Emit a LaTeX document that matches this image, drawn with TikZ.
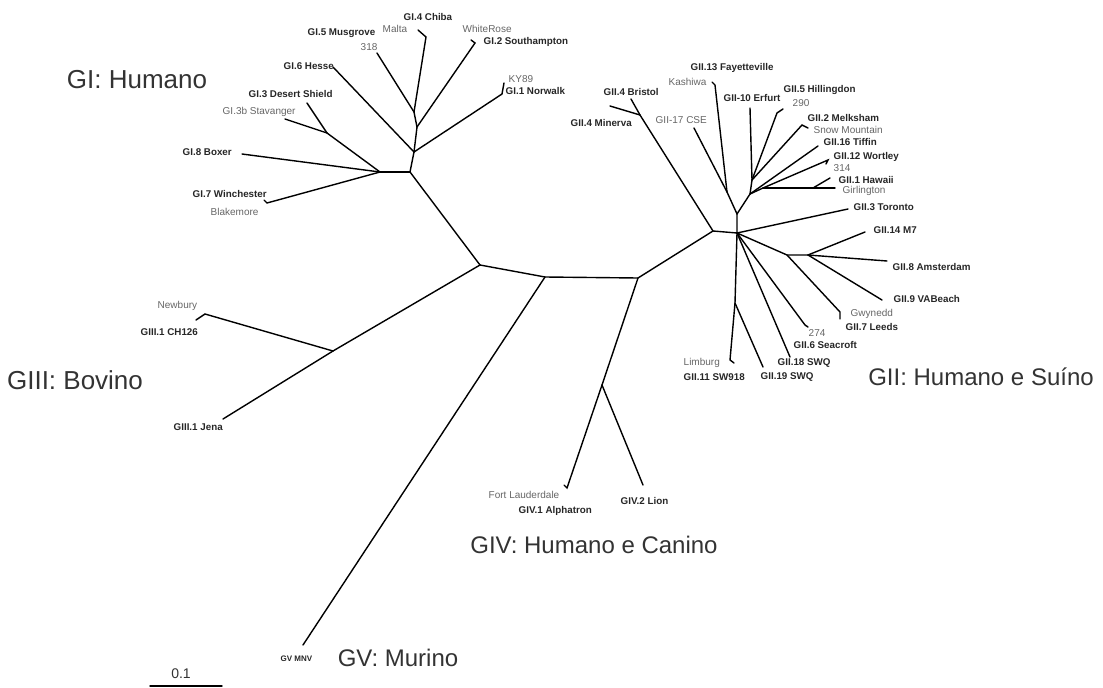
\documentclass[tikz,border=0pt]{standalone}
\usepackage{fontspec}
\setmainfont{Liberation Sans}
\begin{document}
\begin{tikzpicture}[x=1pt, y=-1pt, line width=1.4pt, line cap=round,
  bold/.style={font=\fontsize{9.8}{10}\selectfont\bfseries, text=black!85, inner sep=0pt, anchor=west},
  plain/.style={font=\fontsize{10}{10}\selectfont, text=black!60, inner sep=0pt, anchor=west},
  group/.style={font=\fontsize{24}{24}\selectfont, text=black!80, inner sep=0pt}]
\useasboundingbox (0,0) rectangle (1103,688);

% backbone
\coordinate (a) at (480,265);
\coordinate (b) at (545,277);
\coordinate (c) at (638,278);
\coordinate (gii) at (713,231);
\coordinate (hub) at (737,233);
\coordinate (up) at (737,214);

% GI
\coordinate (gi1) at (410,172);
\coordinate (gi2) at (380,172);
\coordinate (gi3) at (327,133);
\coordinate (gi4) at (414,152);
\coordinate (gi5) at (417,127);
\coordinate (gi6) at (414,112);
\coordinate (boxer) at (242,154);
\coordinate (winch) at (267,203);
\coordinate (blake) at (264,200);
\coordinate (dshield) at (307,103);
\coordinate (stav) at (285,119);
\coordinate (hesse) at (333,67);
\coordinate (norw) at (502,94);
\coordinate (ky) at (504,83);
\coordinate (south) at (475,43);
\coordinate (white) at (471,40);
\coordinate (s318) at (377,53);
\coordinate (chiba) at (426,37);
\coordinate (malta) at (418,30);

% GII
\coordinate (bris) at (640,115);
\coordinate (bristol) at (631,99);
\coordinate (minerva) at (610,106);
\coordinate (k) at (727,192);
\coordinate (cse) at (694,128);
\coordinate (kash) at (715,85);
\coordinate (fay) at (712,82);
\coordinate (n1) at (750,194);
\coordinate (n2) at (752,180);
\coordinate (g0) at (763,188);
\coordinate (erfurt) at (750,108);
\coordinate (hill) at (777,113);
\coordinate (h290) at (783,109);
\coordinate (melk) at (802,125);
\coordinate (snow) at (808,128);
\coordinate (tiffin) at (818,146);
\coordinate (wort) at (828,160);
\coordinate (w314) at (826,164);
\coordinate (h) at (813,188);
\coordinate (girl) at (835,188);
\coordinate (hawaii) at (830,178);
\coordinate (toronto) at (848,209);
\coordinate (m1) at (787,255);
\coordinate (m2) at (808,255);
\coordinate (m7) at (865,232);
\coordinate (amst) at (887,261);
\coordinate (vab) at (882,300);
\coordinate (leeds) at (840,312);
\coordinate (gwy) at (840,319);
\coordinate (t274) at (805,325);
\coordinate (sea) at (808,327);
\coordinate (swqa) at (790,357);
\coordinate (l1) at (735,303);
\coordinate (swqb) at (763,367);
\coordinate (limb) at (730,360);
\coordinate (sw918) at (734,363);

% GIII, GIV, GV
\coordinate (giii) at (333,351);
\coordinate (newb) at (205,314);
\coordinate (ch126) at (196,320);
\coordinate (jena) at (223,419);
\coordinate (giv) at (602,385);
\coordinate (alph) at (567,488);
\coordinate (fort) at (564,485);
\coordinate (lion) at (643,485);
\coordinate (mnv) at (303,645);

% branches
\draw (a) -- (b) -- (c) -- (gii) -- (hub) -- (up);
\draw (a) -- (gi1);
\draw (a) -- (giii);
\draw (b) -- (mnv);
\draw (c) -- (giv);

\draw (gi1) -- (gi2);
\draw (gi1) -- (gi4);
\draw (gi2) -- (boxer);
\draw (gi2) -- (winch) -- (blake);
\draw (gi2) -- (gi3);
\draw (gi3) -- (dshield);
\draw (gi3) -- (stav);
\draw (gi4) -- (hesse);
\draw (gi4) -- (norw) -- (ky);
\draw (gi4) -- (gi5);
\draw (gi5) -- (south) -- (white);
\draw (gi5) -- (gi6);
\draw (gi6) -- (s318);
\draw (gi6) -- (chiba) -- (malta);

\draw (gii) -- (bris);
\draw (bris) -- (bristol);
\draw (bris) -- (minerva);
\draw (up) -- (k);
\draw (k) -- (cse);
\draw (k) -- (kash) -- (fay);
\draw (up) -- (n1) -- (n2);
\draw (n2) -- (erfurt);
\draw (n2) -- (hill) -- (h290);
\draw (n2) -- (melk) -- (snow);
\draw (n1) -- (tiffin);
\draw (n1) -- (g0) -- (wort) -- (w314);
\draw (g0) -- (h) -- (girl);
\draw (h) -- (hawaii);
\draw (hub) -- (toronto);
\draw (hub) -- (m1) -- (m2);
\draw (m2) -- (m7);
\draw (m2) -- (amst);
\draw (m2) -- (vab);
\draw (m1) -- (leeds) -- (gwy);
\draw (hub) -- (t274) -- (sea);
\draw (hub) -- (swqa);
\draw (hub) -- (l1) -- (limb) -- (sw918);
\draw (l1) -- (swqb);

\draw (giii) -- (newb) -- (ch126);
\draw (giii) -- (jena);
\draw (giv) -- (alph) -- (fort);
\draw (giv) -- (lion);

% labels GI
\node[bold] (lchiba) at (403,17) {GI.4 Chiba};
\node[plain] (lmalta) at (382,29) {Malta};
\node[bold] (lmusg) at (307,33) {GI.5 Musgrove};
\node[plain] (l318) at (360,47) {318};
\node[plain] (lwhite) at (462,29) {WhiteRose};
\node[bold] (lsouth) at (483,42) {GI.2 Southampton};
\node[bold] (lhesse) at (283,66) {GI.6 Hesse};
\node[plain] (lky) at (508,79) {KY89};
\node[bold] (lnorw) at (505,91) {GI.1 Norwalk};
\node[bold] (ldesert) at (248,94) {GI.3 Desert Shield};
\node[plain] (lstav) at (222,112) {GI.3b Stavanger};
\node[bold] (lboxer) at (182,152) {GI.8 Boxer};
\node[bold] (lwinch) at (192,194) {GI.7 Winchester};
\node[plain] (lblake) at (210,212) {Blakemore};

% labels GII
\node[bold] (lbristol) at (603,92) {GII.4 Bristol};
\node[bold] (lminerva) at (570,123) {GII.4 Minerva};
\node[plain] (lcse) at (655,120) {GII-17 CSE};
\node[bold] (lfay) at (690,68) {GII.13 Fayetteville};
\node[plain] (lkash) at (668,82) {Kashiwa};
\node[bold] (lerfurt) at (723,98) {GII-10 Erfurt};
\node[bold] (lhill) at (783,90) {GII.5 Hillingdon};
\node[plain] (l290) at (792,103) {290};
\node[bold] (lmelk) at (807,118) {GII.2 Melksham};
\node[plain] (lsnow) at (813,130) {Snow Mountain};
\node[bold] (ltiffin) at (823,142) {GII.16 Tiffin};
\node[bold] (lwort) at (833,157) {GII.12 Wortley};
\node[plain] (l314) at (833,168) {314};
\node[bold] (lhawaii) at (838,180) {GII.1 Hawaii};
\node[plain] (lgirl) at (842,191) {Girlington};
\node[bold] (ltoronto) at (853,207) {GII.3 Toronto};
\node[bold] (lm7) at (873,230) {GII.14 M7};
\node[bold] (lamst) at (892,267) {GII.8 Amsterdam};
\node[bold] (lvab) at (893,299) {GII.9 VABeach};
\node[plain] (lgwy) at (850,314) {Gwynedd};
\node[bold] (lleeds) at (845,327) {GII.7 Leeds};
\node[plain] (l274) at (808,333) {274};
\node[bold] (lsea) at (793,345) {GII.6 Seacroft};
\node[bold] (lswqa) at (777,363) {GII.18 SWQ};
\node[plain] (llimb) at (683,363) {Limburg};
\node[bold] (lsw918) at (683,377) {GII.11 SW918};
\node[bold] (lswqb) at (760,377) {GII.19 SWQ};

% labels GIII, GIV, GV
\node[plain] (lnewb) at (157,306) {Newbury};
\node[bold] (lch126) at (140,332) {GIII.1 CH126};
\node[bold] (ljena) at (173,427) {GIII.1 Jena};
\node[plain] (lfort) at (488,495) {Fort Lauderdale};
\node[bold] (lalph) at (518,511) {GIV.1 Alphatron};
\node[bold] (llion) at (620,501) {GIV.2 Lion};
\node[bold, font=\fontsize{8}{8}\selectfont\bfseries] (lmnv) at (280,659) {GV MNV};

% group names
\node[group, font=\fontsize{26}{26}\selectfont] (ngi) at (137,80) {GI: Humano};
\node[group, font=\fontsize{26}{26}\selectfont] (ngiii) at (75,380) {GIII: Bovino};
\node[group] (ngii) at (981,377) {GII: Humano e Suíno};
\node[group] (ngiv) at (594,545) {GIV: Humano e Canino};
\node[group] (ngv) at (398,658) {GV: Murino};

% scale bar
\coordinate (bar1) at (150,686);
\coordinate (bar2) at (222,686);
\draw (bar1) -- (bar2);
\node[font=\fontsize{14}{14}\selectfont, text=black!80, inner sep=0pt] (lbar) at (181,674) {0.1};
\end{tikzpicture}
\end{document}
